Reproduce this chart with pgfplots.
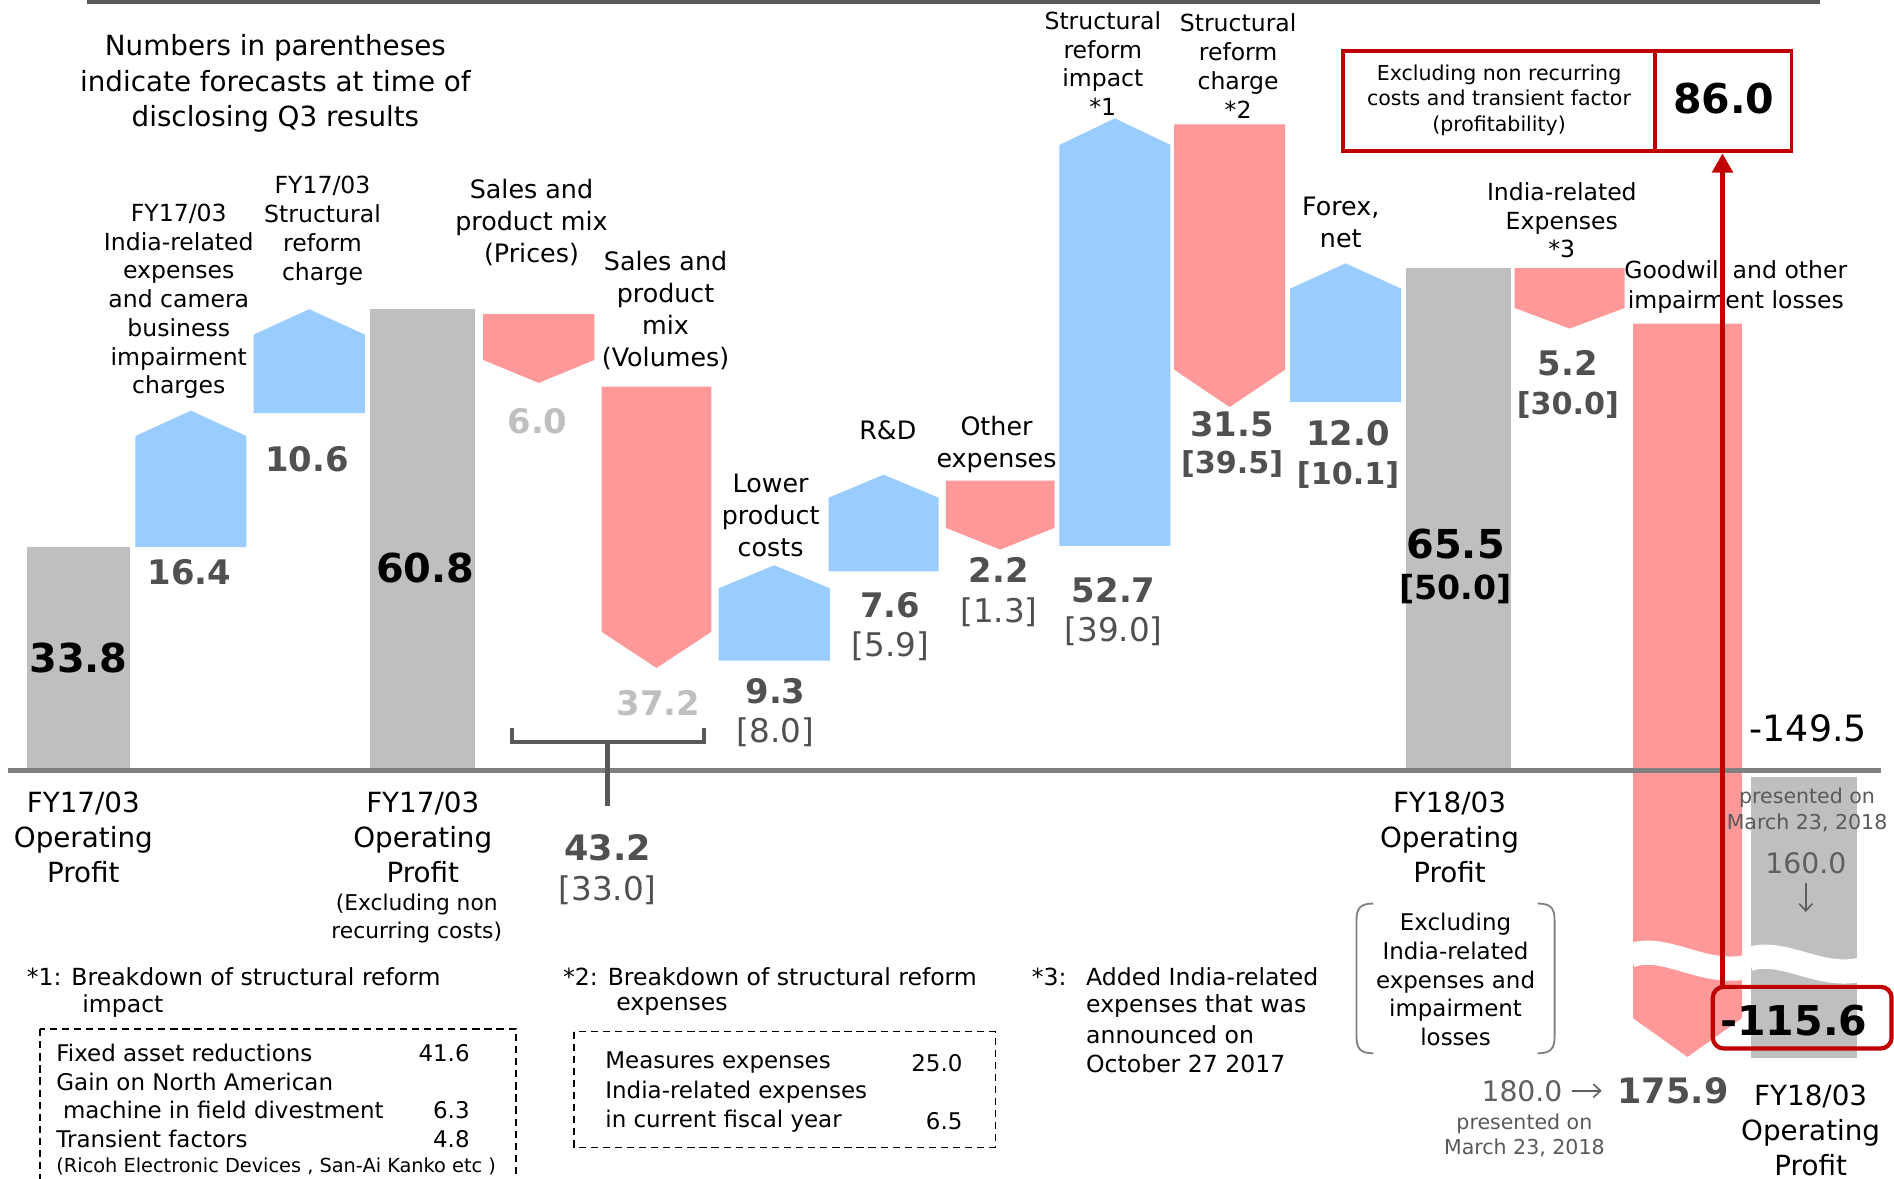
\documentclass[border=0pt]{standalone}
\usepackage{pgfplots}
\pgfplotsset{compat=1.18}
\usepackage{fontspec}
\setmainfont{DejaVu Sans}
\usetikzlibrary{arrows.meta}
\definecolor{gbar}{HTML}{BFBFBF}
\definecolor{bbar}{HTML}{99CCFF}
\definecolor{rbar}{HTML}{FF9999}
\definecolor{dred}{HTML}{C00000}
\definecolor{vgray}{HTML}{505050}
\definecolor{lgray}{HTML}{BFBFBF}
\definecolor{axgray}{HTML}{808080}
\definecolor{dgray}{HTML}{595959}
\definecolor{mgray}{HTML}{5F5F5F}
\newcommand{\fs}[2]{\fontsize{#1pt}{#2pt}\selectfont}
\tikzset{t/.style={inner sep=0pt, align=center}}
\begin{document}
\begin{tikzpicture}
\begin{axis}[
  scale only axis, width=1568pt, height=976pt,
  xmin=0, xmax=1568, ymin=0, ymax=976, y dir=reverse,
  hide axis, clip=false, no markers,
]
% ---- totals (gray)
\addplot[fill=gbar, draw=none] coordinates {(22,638) (108,638) (108,453) (22,453)} --cycle;
\addplot[fill=gbar, draw=none] coordinates {(306,638) (393,638) (393,256) (306,256)} --cycle;
\addplot[fill=gbar, draw=none] coordinates {(1164,638) (1251,638) (1251,222) (1164,222)} --cycle;
\addplot[fill=gbar, draw=none] coordinates {(1450,643) (1537,643) (1537,876) (1450,876)} --cycle;
% ---- increases (blue)
\addplot[fill=bbar, draw=none] coordinates {(112,453) (204,453) (204,361) (158,340) (112,361)} --cycle;
\addplot[fill=bbar, draw=none] coordinates {(210,342) (302,342) (302,277) (256,256) (210,277)} --cycle;
\addplot[fill=bbar, draw=none] coordinates {(595,547) (687,547) (687,487) (641,468) (595,487)} --cycle;
\addplot[fill=bbar, draw=none] coordinates {(686,473) (777,473) (777,412) (731.5,393) (686,412)} --cycle;
\addplot[fill=bbar, draw=none] coordinates {(877,452) (969,452) (969,120) (923,98) (877,120)} --cycle;
\addplot[fill=bbar, draw=none] coordinates {(1068,333) (1160,333) (1160,239) (1114,218) (1068,239)} --cycle;
% ---- decreases (red)
\addplot[fill=rbar, draw=none] coordinates {(400,260) (492,260) (492,298) (446,317) (400,298)} --cycle;
\addplot[fill=rbar, draw=none] coordinates {(498,320) (589,320) (589,523) (543.5,553) (498,523)} --cycle;
\addplot[fill=rbar, draw=none] coordinates {(783,398) (873,398) (873,437) (828,455) (783,437)} --cycle;
\addplot[fill=rbar, draw=none] coordinates {(972,103) (1064,103) (1064,306) (1018,337) (972,306)} --cycle;
\addplot[fill=rbar, draw=none] coordinates {(1254,222) (1345,222) (1345,255) (1299.5,272) (1254,255)} --cycle;
\addplot[fill=rbar, draw=none] coordinates {(1352,268) (1442,268) (1442,843) (1397,875) (1352,843)} --cycle;
% ---- wave breaks
\draw[white, line width=20pt] (1350,791) .. controls (1378,781) and (1408,807) .. (1444,801);
\draw[white, line width=20pt] (1448,794) .. controls (1476,785) and (1506,810) .. (1539,803);
% ---- lines
\draw[dgray, line width=3pt] (72,1.5) -- (1507,1.5);
\draw[axgray, line width=4pt] (7,638) -- (1557,638);
\draw[dgray, line width=3.5pt] (424,603) -- (424,614.5) -- (583,614.5) -- (583,603);
\draw[dgray, line width=3.5pt] (503,614.5) -- (503,667);
% ---- title
\node[t, font=\fs{23}{29}] at (228,69) {Numbers in parentheses\\indicate forecasts at time of\\disclosing Q3 results};
% ---- category labels
\node[t, font=\fs{19.5}{23.8}] at (148,249.5) {FY17/03\\India-related\\expenses\\and camera\\business\\impairment\\charges};
\node[t, font=\fs{19.5}{24}] at (267,191) {FY17/03\\Structural\\reform\\charge};
\node[t, font=\fs{21}{26.5}] at (440,184.5) {Sales and\\product mix\\(Prices)};
\node[t, font=\fs{21}{26.7}] at (551,257) {Sales and\\product\\mix\\(Volumes)};
\node[t, font=\fs{21}{26.5}] at (638,426.5) {Lower\\product\\costs};
\node[t, font=\fs{21}{26}] at (735,356) {R\&D};
\node[t, font=\fs{21}{26}] at (825,368) {Other\\expenses};
\node[t, font=\fs{19.5}{23.7}] at (913,52.5) {Structural\\reform\\impact\\*1};
\node[t, font=\fs{19.5}{24}] at (1025,55) {Structural\\reform\\charge\\*2};
\node[t, font=\fs{21}{26}] at (1110,184) {Forex,\\net};
\node[t, font=\fs{19.5}{23.5}] at (1293,182.5) {India-related\\Expenses\\*3};
\node[t, font=\fs{19.5}{25}] at (1437,237.5) {Goodwill and other\\impairment losses};
% ---- values
\node[t, font=\fs{33}{33}\bfseries] at (65,545) {33.8};
\node[t, font=\fs{28}{28}\bfseries, text=vgray] at (157,474) {16.4};
\node[t, font=\fs{28}{28}\bfseries, text=vgray] at (254,380) {10.6};
\node[t, font=\fs{33}{33}\bfseries] at (352,470) {60.8};
\node[t, font=\fs{28}{28}\bfseries, text=lgray] at (445,349) {6.0};
\node[t, font=\fs{28}{28}\bfseries, text=lgray] at (545,582) {37.2};
\node[t, font=\fs{28}{28}\bfseries, text=vgray] at (642,572) {9.3};
\node[t, font=\fs{27}{27}, text=vgray] at (642,606) {[8.0]};
\node[t, font=\fs{28}{28}\bfseries, text=vgray] at (737,501) {7.6};
\node[t, font=\fs{27}{27}, text=vgray] at (737,535) {[5.9]};
\node[t, font=\fs{28}{28}\bfseries, text=vgray] at (827,472) {2.2};
\node[t, font=\fs{27}{27}, text=vgray] at (827,507) {[1.3]};
\node[t, font=\fs{28}{28}\bfseries, text=vgray] at (922,489) {52.7};
\node[t, font=\fs{27}{27}, text=vgray] at (922,523) {[39.0]};
\node[t, font=\fs{28}{28}\bfseries, text=vgray] at (1020,351) {31.5};
\node[t, font=\fs{25}{25}\bfseries, text=vgray] at (1020,384) {[39.5]};
\node[t, font=\fs{28}{28}\bfseries, text=vgray] at (1116,359) {12.0};
\node[t, font=\fs{25}{25}\bfseries, text=vgray] at (1116,393) {[10.1]};
\node[t, font=\fs{33}{33}\bfseries] at (1205,450) {65.5};
\node[t, font=\fs{27.5}{27.5}\bfseries] at (1205,488) {[50.0]};
\node[t, font=\fs{28}{28}\bfseries, text=vgray] at (1298,301) {5.2};
\node[t, font=\fs{25}{25}\bfseries, text=vgray] at (1298,335) {[30.0]};
\node[t, font=\fs{29}{29}\bfseries, text=vgray] at (503,702) {43.2};
\node[t, font=\fs{27}{27}, text=vgray] at (503,737) {[33.0]};
\node[t, font=\fs{30}{30}] at (1497,603) {-149.5};
% ---- bottom labels
\node[t, font=\fs{23}{29}] at (69,693) {FY17/03\\Operating\\Profit};
\node[t, font=\fs{23}{29}] at (350,693) {FY17/03\\Operating\\Profit};
\node[t, font=\fs{18}{23.5}] at (345,760.5) {(Excluding non\\recurring costs)};
\node[t, font=\fs{23}{29}] at (1200,693) {FY18/03\\Operating\\Profit};
\node[t, font=\fs{19}{23.8}] at (1205,811) {Excluding\\India-related\\expenses and\\impairment\\losses};
\draw[axgray, line width=1.5pt] (1137,748) .. controls (1126,748) and (1123,752) .. (1123,762) -- (1123,858) .. controls (1123,868) and (1126,872) .. (1137,872);
\draw[axgray, line width=1.5pt] (1273,748) .. controls (1284,748) and (1287,752) .. (1287,762) -- (1287,858) .. controls (1287,868) and (1284,872) .. (1273,872);
\node[t, font=\fs{17}{21}, text=dgray] at (1496,670.5) {presented on\\March 23, 2018};
\node[t, font=\fs{23.4}{23.4}, text=mgray] at (1495,715) {160.0};
\draw[mgray, line width=1.3pt, -{Straight Barb[length=6pt,width=11pt]}] (1495,731) -- (1495,755);
\node[t, font=\fs{23.4}{23.4}, text=mgray] at (1260,903) {180.0};
\draw[mgray, line width=1.3pt, -{Straight Barb[length=6pt,width=11pt]}] (1301,903) -- (1326,903);
\node[t, font=\fs{29}{29}\bfseries, text=vgray] at (1385,903) {175.9};
\node[t, font=\fs{17}{21}, text=dgray] at (1262,940) {presented on\\March 23, 2018};
\node[t, font=\fs{23}{29}] at (1499,936) {FY18/03\\Operating\\Profit};
% ---- footnotes
\node[t, anchor=west, font=\fs{19.5}{24}] at (22,809) {*1: Breakdown of structural reform};
\node[t, anchor=west, font=\fs{19.5}{24}] at (68,833) {impact};
\draw[black, line width=1.3pt, dash pattern=on 6pt off 4pt] (33,852) rectangle (427,995);
\node[t, anchor=west, font=\fs{19}{24}] at (46.5,872) {Fixed asset reductions};
\node[t, anchor=east, font=\fs{19}{24}] at (389,872) {41.6};
\node[t, anchor=west, font=\fs{19}{24}] at (46.5,896) {Gain on North American};
\node[t, anchor=west, font=\fs{19}{24}] at (52,919) {machine in field divestment};
\node[t, anchor=east, font=\fs{19}{24}] at (389,919) {6.3};
\node[t, anchor=west, font=\fs{19}{24}] at (46.5,943) {Transient factors};
\node[t, anchor=east, font=\fs{19}{24}] at (389,943) {4.8};
\node[t, anchor=west, font=\fs{16}{20}] at (46.5,966) {(Ricoh Electronic Devices , San-Ai Kanko etc )};
\node[t, anchor=west, font=\fs{19.5}{24}] at (466,809) {*2: Breakdown of structural reform};
\node[t, anchor=west, font=\fs{19.5}{24}] at (510,833) {expenses};
\draw[black, line width=1.3pt, dash pattern=on 6pt off 4pt] (475,854) rectangle (824,950);
\node[t, anchor=west, font=\fs{19}{24}] at (501,880) {Measures expenses};
\node[t, anchor=east, font=\fs{19}{24}] at (797,880) {25.0};
\node[t, anchor=west, font=\fs{19}{24}] at (501,904.5) {India-related expenses};
\node[t, anchor=west, font=\fs{19}{24}] at (501,928.5) {in current fiscal year};
\node[t, anchor=east, font=\fs{19}{24}] at (797,928.5) {6.5};
\node[t, anchor=west, font=\fs{19.5}{24}] at (854,809) {*3:};
\node[t, anchor=west, font=\fs{19.5}{24}] at (899,809) {Added India-related};
\node[t, anchor=west, font=\fs{19.5}{24}] at (899,833) {expenses that was};
\node[t, anchor=west, font=\fs{19.5}{24}] at (899,857) {announced on};
\node[t, anchor=west, font=\fs{19.5}{24}] at (899,881) {October 27 2017};
% ---- red highlight
\draw[dred, line width=3pt] (1112,42) rectangle (1483,125);
\draw[dred, line width=3pt] (1370,42) -- (1370,125);
\node[t, font=\fs{17}{21}] at (1241,83) {Excluding non recurring\\costs and transient factor\\(profitability)};
\node[t, font=\fs{34}{34}\bfseries] at (1427,82) {86.0};
\node[t, font=\fs{34}{34}\bfseries] at (1485,845) {-115.6};
\draw[dred, line width=3.5pt, rounded corners=9pt] (1418,817) rectangle (1566,868);
\draw[dred, line width=3.5pt, -{Triangle[width=17pt,length=16pt]}] (1426,817) -- (1426,127);
\end{axis}
\pgfresetboundingbox
\useasboundingbox (0,0) rectangle (1568pt,976pt);
\end{tikzpicture}
\end{document}
